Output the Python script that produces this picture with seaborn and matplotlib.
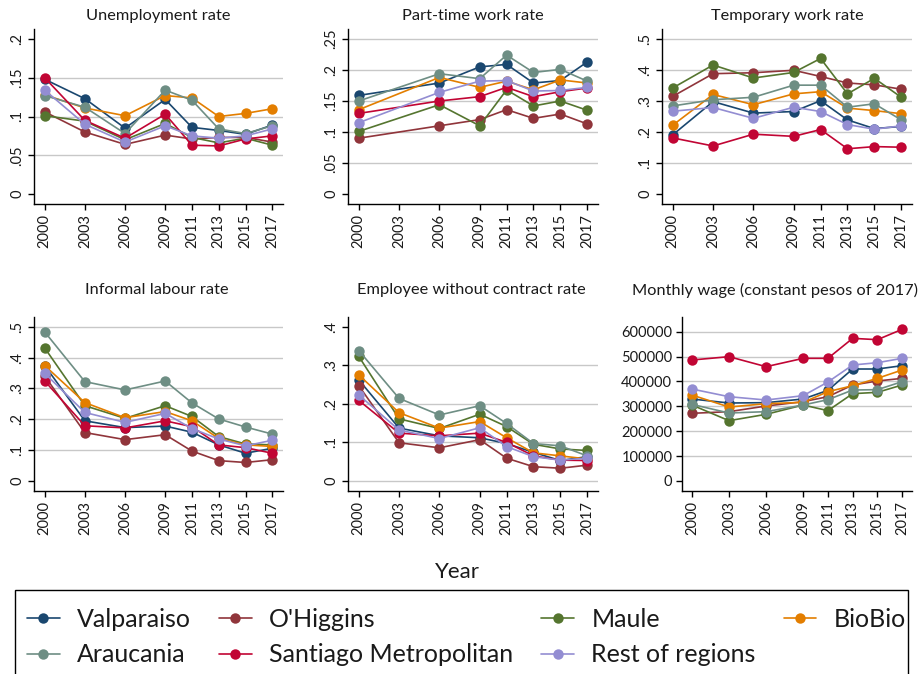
import numpy as np
import pandas as pd
import matplotlib
matplotlib.use("Agg")
import matplotlib.pyplot as plt
from matplotlib.patches import Rectangle
import seaborn as sns

years = [2000, 2003, 2006, 2009, 2011, 2013, 2015, 2017]
regions = ["Valparaiso", "O'Higgins", "Maule", "BioBio", "Araucania",
           "Santiago Metropolitan", "Rest of regions"]
colors = ["#1a476f", "#90353b", "#55752f", "#e37e00", "#6e8e84", "#c10534", "#938dd2"]

unemployment = {
    "Valparaiso":            [0.148, 0.123, 0.085, 0.122, 0.086, 0.082, 0.077, 0.089],
    "O'Higgins":             [0.106, 0.080, 0.064, 0.076, 0.071, 0.073, 0.073, 0.067],
    "Maule":                 [0.101, 0.094, 0.070, 0.091, 0.073, 0.066, 0.072, 0.063],
    "BioBio":                [0.128, 0.111, 0.101, 0.127, 0.124, 0.100, 0.104, 0.110],
    "Araucania":             [0.127, 0.112, 0.078, 0.134, 0.121, 0.084, 0.078, 0.088],
    "Santiago Metropolitan": [0.150, 0.095, 0.072, 0.103, 0.063, 0.062, 0.071, 0.075],
    "Rest of regions":       [0.134, 0.090, 0.067, 0.088, 0.075, 0.072, 0.075, 0.084],
}
part_time = {
    "Valparaiso":            [0.159, np.nan, 0.179, 0.205, 0.209, 0.179, 0.183, 0.213],
    "O'Higgins":             [0.090, np.nan, 0.110, 0.120, 0.136, 0.122, 0.129, 0.113],
    "Maule":                 [0.101, np.nan, 0.144, 0.110, 0.168, 0.142, 0.150, 0.135],
    "BioBio":                [0.136, np.nan, 0.188, 0.172, 0.182, 0.168, 0.184, 0.179],
    "Araucania":             [0.150, np.nan, 0.194, 0.186, 0.224, 0.196, 0.201, 0.182],
    "Santiago Metropolitan": [0.130, np.nan, 0.150, 0.157, 0.172, 0.157, 0.165, 0.171],
    "Rest of regions":       [0.115, np.nan, 0.164, 0.182, 0.183, 0.166, 0.167, 0.172],
}
temporary = {
    "Valparaiso":            [0.191, 0.298, 0.261, 0.266, 0.301, 0.239, 0.211, 0.218],
    "O'Higgins":             [0.315, 0.388, 0.391, 0.399, 0.379, 0.358, 0.352, 0.338],
    "Maule":                 [0.342, 0.416, 0.374, 0.392, 0.437, 0.323, 0.373, 0.312],
    "BioBio":                [0.222, 0.321, 0.288, 0.323, 0.330, 0.277, 0.269, 0.259],
    "Araucania":             [0.284, 0.304, 0.312, 0.351, 0.351, 0.280, 0.291, 0.239],
    "Santiago Metropolitan": [0.181, 0.155, 0.193, 0.186, 0.208, 0.146, 0.153, 0.151],
    "Rest of regions":       [0.267, 0.279, 0.244, 0.280, 0.266, 0.224, 0.209, 0.220],
}
informal = {
    "Valparaiso":            [0.374, 0.195, 0.173, 0.178, 0.158, 0.117, 0.090, 0.106],
    "O'Higgins":             [0.340, 0.157, 0.134, 0.150, 0.097, 0.066, 0.060, 0.069],
    "Maule":                 [0.431, 0.244, 0.203, 0.244, 0.209, 0.144, 0.120, 0.117],
    "BioBio":                [0.374, 0.254, 0.205, 0.225, 0.195, 0.138, 0.117, 0.112],
    "Araucania":             [0.483, 0.322, 0.295, 0.324, 0.253, 0.201, 0.175, 0.152],
    "Santiago Metropolitan": [0.324, 0.179, 0.172, 0.195, 0.176, 0.117, 0.108, 0.090],
    "Rest of regions":       [0.349, 0.222, 0.190, 0.219, 0.170, 0.136, 0.114, 0.132],
}
no_contract = {
    "Valparaiso":            [0.262, 0.137, 0.117, 0.112, 0.097, 0.074, 0.053, 0.063],
    "O'Higgins":             [0.247, 0.099, 0.086, 0.107, 0.059, 0.037, 0.033, 0.041],
    "Maule":                 [0.323, 0.161, 0.136, 0.173, 0.141, 0.095, 0.083, 0.079],
    "BioBio":                [0.275, 0.177, 0.137, 0.154, 0.112, 0.073, 0.065, 0.057],
    "Araucania":             [0.338, 0.214, 0.171, 0.195, 0.149, 0.097, 0.091, 0.065],
    "Santiago Metropolitan": [0.209, 0.124, 0.117, 0.124, 0.100, 0.065, 0.054, 0.053],
    "Rest of regions":       [0.223, 0.132, 0.110, 0.138, 0.089, 0.063, 0.054, 0.059],
}
wage = {
    "Valparaiso":            [329500, 313400, 314700, 329500, 364300, 450000, 450000, 463400],
    "O'Higgins":             [271900, 278600, 301300, 318800, 338800, 385700, 401800, 412500],
    "Maule":                 [305400, 242400, 267900, 305400, 282600, 350900, 356300, 385700],
    "BioBio":                [345500, 297300, 310700, 316100, 358900, 383000, 412500, 446000],
    "Araucania":             [308000, 273200, 278600, 305400, 326800, 365600, 367000, 399100],
    "Santiago Metropolitan": [486200, 499600, 459400, 492900, 492900, 573200, 567900, 609400],
    "Rest of regions":       [369600, 338800, 325400, 342900, 397800, 466100, 475400, 492900],
}

titles = ["Unemployment rate", "Part-time work rate", "Temporary work rate",
          "Informal labour rate", "Employee without contract rate",
          "Monthly wage (constant pesos of 2017)"]
datasets = [unemployment, part_time, temporary, informal, no_contract, wage]

yticks = [
    [0, 0.05, 0.10, 0.15, 0.20],
    [0, 0.05, 0.10, 0.15, 0.20, 0.25],
    [0, 0.1, 0.2, 0.3, 0.4, 0.5],
    [0, 0.1, 0.2, 0.3, 0.4, 0.5],
    [0, 0.1, 0.2, 0.3, 0.4],
    [0, 100000, 200000, 300000, 400000, 500000, 600000],
]
ytick_labels = [
    ["0", ".05", ".1", ".15", ".2"],
    ["0", ".05", ".1", ".15", ".2", ".25"],
    ["0", ".1", ".2", ".3", ".4", ".5"],
    ["0", ".1", ".2", ".3", ".4", ".5"],
    ["0", ".1", ".2", ".3", ".4"],
    ["0", "100000", "200000", "300000", "400000", "500000", "600000"],
]
grid_levels = [
    [0.05, 0.10, 0.15],
    [0.05, 0.10, 0.15, 0.20, 0.25],
    [0.1, 0.2, 0.3, 0.4, 0.5],
    [0.1, 0.2, 0.3, 0.4, 0.5],
    [0, 0.1, 0.2, 0.3],
    [100000, 200000, 300000, 400000, 500000, 600000],
]
ylims = [(-0.0129, 0.2129), (-0.0161, 0.2661), (-0.032, 0.532),
         (-0.0324, 0.5314), (-0.026, 0.425), (-40200, 659000)]

# panel boxes in pixels: left, right, top, bottom
boxes = [(34, 283, 29, 204), (348, 598, 29, 204), (662, 912, 29, 204),
         (34, 283, 317, 491), (348, 598, 317, 491), (682, 912, 317, 491)]
title_pos = [(158, 16), (473, 16), (787, 16), (157, 290), (471, 290), (775, 290)]

W, H = 923, 674
sns.set_theme(style="white")
plt.rcParams["font.family"] = ["Lato", "DejaVu Sans"]

fig = plt.figure(figsize=(W / 100, H / 100), dpi=100)
fig.patch.set_facecolor("white")

palette = dict(zip(regions, colors))
legend_lines = None
txtcol = "#1a1a1a"

for i, data in enumerate(datasets):
    l, r, t, b = boxes[i]
    ax = fig.add_axes([l / W, 1 - b / H, (r - l) / W, (b - t) / H])
    ax.set_facecolor("white")
    rows = []
    for reg in regions:
        for yr, v in zip(years, data[reg]):
            rows.append({"year": yr, "region": reg, "value": v})
    df = pd.DataFrame(rows).dropna()
    sns.lineplot(data=df, x="year", y="value", hue="region", hue_order=regions,
                 palette=palette, marker="o", markersize=7.5, linewidth=1.2,
                 markeredgewidth=0, errorbar=None, legend=False, ax=ax)
    if legend_lines is None:
        legend_lines = list(ax.get_lines()[:len(regions)])
    for g in grid_levels[i]:
        ax.axhline(g, color="#c8c8c8", linewidth=1.0, zorder=0)
    ax.set_xlim(1999.2, 2017.8)
    ax.set_ylim(*ylims[i])
    ax.set_xticks(years)
    ax.set_xticklabels([str(y) for y in years], rotation=90, fontsize=10.5)
    ax.set_yticks(yticks[i])
    if i < 5:
        ax.set_yticklabels(ytick_labels[i], rotation=90, fontsize=10.5, va="center")
    else:
        ax.set_yticklabels(ytick_labels[i], fontsize=10.5)
    ax.set_xlabel("")
    ax.set_ylabel("")
    for s in ["top", "right"]:
        ax.spines[s].set_visible(False)
    for s in ["left", "bottom"]:
        ax.spines[s].set_color("black")
        ax.spines[s].set_linewidth(1.0)
    ax.tick_params(axis="both", which="major", direction="out", length=4,
                   width=1.0, color="black", pad=3, labelcolor=txtcol,
                   left=True, bottom=True)
    tx, ty = title_pos[i]
    fig.text(tx / W, 1 - ty / H, titles[i], ha="center", va="center",
             fontsize=11.8, color=txtcol)

fig.text(457 / W, 1 - 572 / H, "Year", ha="center", va="center",
         fontsize=16, color=txtcol)

# legend frame (extends past the bottom edge like the reference)
fig.patches.append(Rectangle((15 / W, -20 / H), (908 - 15) / W, (20 + 674 - 590) / H,
                             transform=fig.transFigure, facecolor="white",
                             edgecolor="black", linewidth=1.0, zorder=0))

order = [0, 4, 1, 5, 2, 6, 3]
handles = [legend_lines[k] for k in order]
labels = [regions[k] for k in order]
leg = fig.legend(handles, labels, loc="upper left",
                 bbox_to_anchor=(27 / W, 0, (906 - 27) / W, 1 - 608 / H),
                 bbox_transform=fig.transFigure, mode="expand", ncol=4,
                 frameon=False, borderpad=0, handlelength=1.3, handletextpad=0.7,
                 labelspacing=0.5, borderaxespad=0, fontsize=18)
for txt in leg.get_texts():
    txt.set_color(txtcol)

fig.savefig("out.png", dpi=100, facecolor="white")
